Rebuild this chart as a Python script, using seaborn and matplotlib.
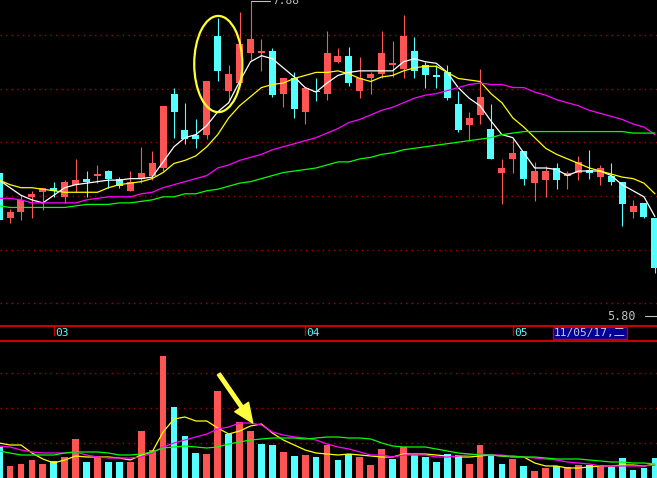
import numpy as np
import seaborn as sns
import matplotlib.pyplot as plt
from matplotlib.patches import Ellipse
from matplotlib.lines import Line2D

# daily K-line, 2011-02-22 .. 2011-05-20 (one entry per trading day)
opens = [6.75, 6.45, 6.49, 6.59, 6.62, 6.65, 6.59, 6.67, 6.71, 6.73,
         6.76, 6.71, 6.63, 6.71, 6.73, 6.78, 7.27, 7.03, 7.00, 7.00,
         7.65, 7.29, 7.34, 7.54, 7.54, 7.55, 7.27, 7.37, 7.15, 7.29,
         7.27, 7.48, 7.52, 7.29, 7.37, 7.40, 7.46, 7.43, 7.55, 7.46,
         7.39, 7.41, 7.20, 7.06, 7.13, 7.04, 6.75, 6.84, 6.89, 6.68,
         6.70, 6.78, 6.73, 6.75, 6.77, 6.72, 6.73, 6.69, 6.49, 6.55, 6.45]
highs = [6.76, 6.51, 6.60, 6.63, 6.65, 6.69, 6.70, 6.84, 6.76, 6.80,
         6.77, 6.72, 6.76, 6.92, 6.89, 7.19, 7.31, 7.21, 7.10, 7.35,
         7.77, 7.46, 7.81, 7.88, 7.63, 7.57, 7.37, 7.41, 7.31, 7.37,
         7.68, 7.57, 7.58, 7.51, 7.41, 7.68, 7.62, 7.79, 7.64, 7.48,
         7.46, 7.46, 7.29, 7.15, 7.43, 7.20, 6.84, 6.97, 6.89, 6.82,
         6.79, 6.81, 6.76, 6.86, 6.90, 6.80, 6.81, 6.69, 6.57, 6.55, 6.45]
lows = [6.42, 6.42, 6.44, 6.45, 6.50, 6.59, 6.55, 6.62, 6.59, 6.68,
        6.65, 6.65, 6.63, 6.68, 6.70, 6.76, 6.98, 6.94, 6.91, 6.97,
        7.35, 7.23, 7.33, 7.49, 7.42, 7.25, 7.18, 7.11, 7.07, 7.22,
        7.23, 7.47, 7.32, 7.24, 7.27, 7.37, 7.38, 7.37, 7.37, 7.31,
        7.31, 7.23, 7.02, 6.96, 7.07, 6.84, 6.54, 6.75, 6.67, 6.56,
        6.59, 6.64, 6.64, 6.70, 6.71, 6.67, 6.67, 6.40, 6.45, 6.45, 6.09]
closes = [6.44, 6.49, 6.57, 6.61, 6.65, 6.63, 6.69, 6.70, 6.69, 6.74,
          6.71, 6.66, 6.69, 6.75, 6.81, 7.19, 7.15, 6.97, 6.97, 7.35,
          7.42, 7.40, 7.60, 7.63, 7.55, 7.26, 7.37, 7.17, 7.31, 7.28,
          7.54, 7.52, 7.34, 7.37, 7.40, 7.54, 7.47, 7.65, 7.42, 7.39,
          7.38, 7.24, 7.03, 7.11, 7.25, 6.84, 6.78, 6.88, 6.71, 6.76,
          6.76, 6.70, 6.75, 6.82, 6.75, 6.78, 6.69, 6.54, 6.53, 6.46, 6.12]

# moving averages as shown by the software
ma5 = [6.70, 6.65, 6.60, 6.57, 6.55, 6.60, 6.65, 6.67, 6.68, 6.69,
       6.70, 6.70, 6.71, 6.71, 6.72, 6.82, 6.92, 6.98, 7.00, 7.06,
       7.15, 7.21, 7.35, 7.48, 7.52, 7.50, 7.44, 7.38, 7.31, 7.28,
       7.34, 7.39, 7.41, 7.42, 7.42, 7.42, 7.42, 7.48, 7.50, 7.48,
       7.47, 7.41, 7.31, 7.24, 7.19, 7.09, 7.00, 6.98, 6.88, 6.78,
       6.78, 6.77, 6.73, 6.76, 6.76, 6.76, 6.73, 6.67, 6.63, 6.59, 6.46]
ma10 = [6.70, 6.67, 6.65, 6.65, 6.64, 6.63, 6.62, 6.62, 6.62, 6.62,
        6.65, 6.67, 6.68, 6.69, 6.71, 6.75, 6.81, 6.83, 6.86, 6.92,
        7.00, 7.11, 7.19, 7.25, 7.31, 7.33, 7.34, 7.37, 7.39, 7.41,
        7.41, 7.42, 7.40, 7.37, 7.35, 7.38, 7.39, 7.42, 7.44, 7.45,
        7.45, 7.41, 7.37, 7.36, 7.35, 7.27, 7.21, 7.11, 7.05, 6.98,
        6.91, 6.87, 6.84, 6.81, 6.78, 6.76, 6.74, 6.72, 6.71, 6.68, 6.61]
ma30 = [6.58, 6.58, 6.57, 6.55, 6.55, 6.55, 6.55, 6.55, 6.57, 6.58,
        6.59, 6.59, 6.59, 6.61, 6.62, 6.65, 6.67, 6.69, 6.71, 6.73,
        6.78, 6.80, 6.83, 6.85, 6.87, 6.90, 6.92, 6.94, 6.96, 6.98,
        7.01, 7.04, 7.08, 7.10, 7.13, 7.16, 7.18, 7.21, 7.24, 7.26,
        7.27, 7.29, 7.31, 7.33, 7.34, 7.33, 7.33, 7.31, 7.31, 7.28,
        7.26, 7.23, 7.21, 7.19, 7.16, 7.14, 7.12, 7.10, 7.07, 7.05, 7.00]
ma60 = [6.53, 6.52, 6.52, 6.52, 6.52, 6.52, 6.52, 6.53, 6.54, 6.54,
        6.54, 6.55, 6.55, 6.56, 6.57, 6.59, 6.59, 6.61, 6.61, 6.63,
        6.64, 6.66, 6.68, 6.69, 6.71, 6.73, 6.75, 6.76, 6.77, 6.78,
        6.80, 6.82, 6.82, 6.84, 6.85, 6.87, 6.88, 6.90, 6.91, 6.92,
        6.93, 6.94, 6.95, 6.96, 6.97, 6.98, 7.00, 7.01, 7.02, 7.02,
        7.02, 7.02, 7.02, 7.02, 7.02, 7.02, 7.02, 7.02, 7.01, 7.01, 7.01]

# volume (thousand lots) and its colour (1 = up vs previous close)
volume = [62, 24, 28, 36, 28, 34, 42, 78, 32, 40,
          32, 32, 32, 94, 56, 244, 142, 84, 50, 48,
          174, 88, 112, 94, 68, 66, 52, 44, 46, 42,
          66, 36, 48, 42, 26, 58, 38, 62, 46, 42,
          32, 48, 46, 28, 66, 44, 28, 38, 24, 14,
          20, 24, 22, 26, 26, 26, 22, 40, 16, 20, 40]
vol_up = [0, 1, 1, 1, 1, 0, 1, 1, 0, 1,
          0, 0, 1, 1, 1, 1, 0, 0, 0, 1,
          1, 0, 1, 1, 0, 0, 1, 0, 1, 0,
          1, 0, 0, 1, 1, 1, 0, 1, 0, 0,
          0, 0, 0, 1, 1, 0, 0, 1, 0, 1,
          1, 0, 1, 1, 0, 1, 0, 0, 0, 0, 0]
vma5 = [70, 66, 66, 50, 38, 30, 36, 44, 42, 42,
        42, 40, 36, 46, 52, 92, 118, 122, 114, 114,
        100, 88, 94, 104, 108, 90, 76, 66, 56, 50,
        48, 46, 48, 46, 44, 42, 42, 48, 48, 48,
        46, 44, 42, 42, 44, 46, 44, 42, 42, 30,
        24, 24, 20, 20, 22, 24, 24, 26, 26, 24, 28]
vma10 = [64, 62, 56, 52, 50, 50, 50, 52, 46, 42,
         40, 40, 40, 42, 50, 62, 70, 76, 82, 88,
         98, 102, 110, 110, 106, 92, 86, 82, 80, 76,
         68, 62, 58, 52, 46, 46, 42, 46, 46, 46,
         42, 42, 44, 46, 48, 46, 46, 42, 42, 40,
         38, 36, 32, 30, 28, 24, 24, 24, 24, 24, 26]
vma20 = [54, 50, 46, 46, 46, 46, 50, 52, 52, 52,
         50, 46, 46, 48, 52, 60, 62, 64, 62, 60,
         62, 68, 72, 76, 78, 80, 80, 80, 78, 80,
         82, 82, 80, 80, 78, 70, 64, 62, 62, 62,
         58, 54, 50, 48, 46, 46, 44, 44, 42, 42,
         40, 38, 38, 38, 36, 34, 32, 32, 30, 30, 28]

price_grid = [7.656, 7.300, 6.950, 6.593, 6.237, 5.887]
vol_grid = [70, 140, 210]
month_pos = [5, 28, 47]
month_labels = ['03', '04', '05']

RED = '#ff5454'
CYAN = '#54ffff'
GRID = '#a80000'
SEP = '#c80000'

sns.set_theme(style='dark', rc={'axes.facecolor': 'black', 'figure.facecolor': 'black'})
plt.rcParams['font.family'] = ['DejaVu Sans Mono', 'Noto Sans CJK SC']

idx = np.arange(len(closes))
o, h, l, c = map(np.array, (opens, highs, lows, closes))
cols = np.where(c >= o, RED, CYAN)
vcols = np.where(np.array(vol_up) == 1, RED, CYAN)

fig = plt.figure(figsize=(6.57, 4.78), dpi=100)
ax = fig.add_axes([0, 152.5 / 478, 1, 325.5 / 478])
axv = fig.add_axes([0, 0, 1, 137.5 / 478])

for a in (ax, axv):
    a.set_facecolor('black')
    a.set_xlim(0.08, 60.19)
    a.set_xticks([])
    a.set_yticks([])
    a.grid(False)
    for s in a.spines.values():
        s.set_visible(False)

# price panel
ax.set_ylim(5.742, 7.887)
for g in price_grid:
    ax.axhline(g, color=GRID, lw=1, ls=(0, (1, 3)), zorder=0)
ax.vlines(idx, l, h, colors=cols, lw=0.8, zorder=2)
ax.bar(idx, np.maximum(np.abs(c - o), 0.007), bottom=np.minimum(o, c),
       width=0.64, color=cols, lw=0, zorder=2)
for vals, col in [(ma5, 'white'), (ma10, '#ffff00'), (ma30, '#ff00ff'), (ma60, '#00ff00')]:
    sns.lineplot(x=idx, y=vals, ax=ax, color=col, lw=0.9, zorder=3)
ax.set_xlabel('')
ax.set_ylabel('')

# highest price marker
top = int(np.argmax(h))
ax.plot([top, top + 1.8], [h[top], h[top]], color='#c0c0c0', lw=0.8, clip_on=False)
ax.text(top + 2.0, h[top], f'{h[top]:.2f}', color='#c0c0c0', fontsize=8, va='center', ha='left')

# yellow ellipse around the key candles
ax.add_patch(Ellipse((20.05, 7.465), 4.4, 0.634, fill=False, ec='#ffff30', lw=1.6, zorder=4))

# month labels under the price panel
tr = ax.get_xaxis_transform()
for pos, lab in zip(month_pos, month_labels):
    ax.plot([pos, pos], [0, -0.03], color=SEP, lw=1, transform=tr, clip_on=False)
    ax.text(pos + 0.12, -0.024, lab, color=CYAN, fontsize=8, va='center', ha='left',
            transform=tr, clip_on=False)

# volume panel
axv.set_ylim(0, 275)
for g in vol_grid:
    axv.axhline(g, color=GRID, lw=1, ls=(0, (1, 3)), zorder=0)
axv.bar(idx, volume, width=0.62, color=vcols, lw=0, zorder=2)
for vals, col in [(vma5, '#ffff00'), (vma10, '#ff00ff'), (vma20, '#00ff00')]:
    sns.lineplot(x=idx, y=vals, ax=axv, color=col, lw=0.9, zorder=3)
axv.set_xlabel('')
axv.set_ylabel('')
axv.annotate('', xy=(23.2, 110), xytext=(20.1, 208),
             arrowprops=dict(facecolor='#ffff40', edgecolor='#ffff40', width=2.5,
                             headwidth=12, headlength=14, shrink=0), zorder=5)

# panel separators
for yy in (1 - 325.5 / 478, 1 - 340.5 / 478):
    fig.add_artist(Line2D([0, 1], [yy, yy], color=SEP, lw=1.5, transform=fig.transFigure))

# lowest price marker and cursor date
fig.text(621 / 657, 1 - 316 / 478, '5.80', color='#c0c0c0', fontsize=8.5, va='center', ha='center')
fig.add_artist(Line2D([645 / 657, 1], [1 - 316 / 478] * 2, color='#c0c0c0', lw=0.8,
                      transform=fig.transFigure))
fig.text(590 / 657, 1 - 333 / 478, '11/05/17,二', color='#d0d0d0', fontsize=8,
         va='center', ha='center',
         bbox=dict(boxstyle='square,pad=0.12', fc='#000098', ec='#c00000', lw=1))

fig.savefig('out.png', dpi=100, facecolor='black')
